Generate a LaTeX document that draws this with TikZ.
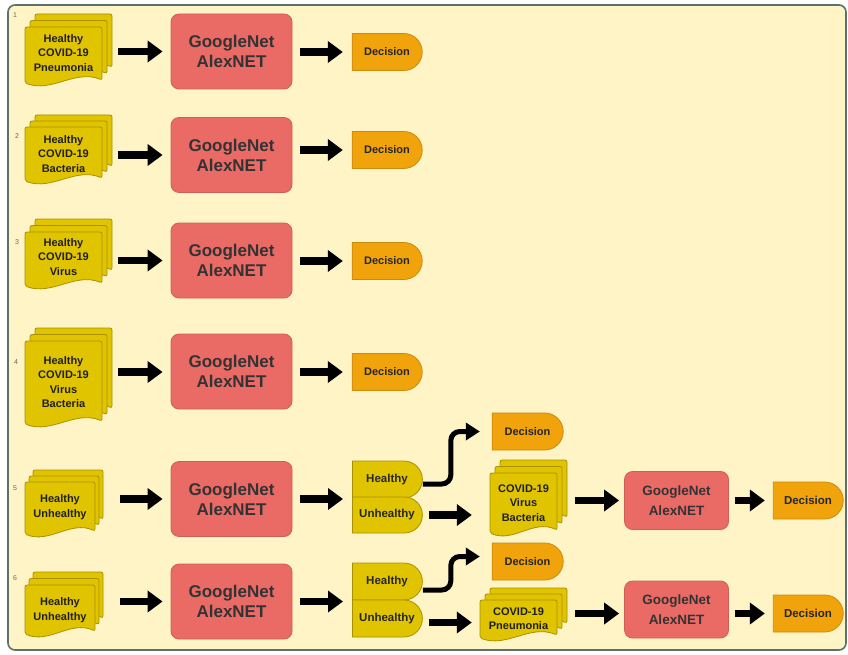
\documentclass[tikz,border=0pt]{standalone}
\usepackage{fontspec}
\setmainfont{Liberation Sans}
\usetikzlibrary{arrows.meta,shapes.misc}

\definecolor{paper}{HTML}{FFF4C6}
\definecolor{framec}{HTML}{5C706E}
\definecolor{docfill}{HTML}{E1C400}
\definecolor{docline}{HTML}{A89000}
\definecolor{netfill}{HTML}{EA6B66}
\definecolor{netline}{HTML}{CF5E59}
\definecolor{decfill}{HTML}{F0A30A}
\definecolor{decline}{HTML}{C98A10}

\tikzset{
  docpage/.style={fill=docfill, draw=docline, line width=0.8pt, rounded corners=2pt},
  doctext/.style={font=\bfseries\fontsize{11}{14.5}\selectfont, align=center,
    text=black!88, inner sep=0pt},
  netbox/.style={rectangle, rounded corners=8pt, fill=netfill, draw=netline,
    line width=0.8pt, font=\bfseries\fontsize{17}{20}\selectfont, align=center,
    text=black!80, minimum width=121pt, minimum height=75pt},
  smallnet/.style={netbox, font=\bfseries\fontsize{13.5}{20}\selectfont,
    minimum width=104pt, minimum height=58pt},
  decision/.style={rounded rectangle, rounded rectangle west arc=none,
    fill=decfill, draw=decline, line width=0.8pt,
    font=\bfseries\fontsize{11}{13}\selectfont, text=black!85,
    minimum width=70pt, minimum height=37pt, inner sep=0pt},
  outcome/.style={decision, fill=docfill, draw=docline,
    font=\bfseries\fontsize{11.5}{13}\selectfont},
  bigarrow/.style={line width=7.5pt, -{Triangle[length=15pt,width=21pt]}},
  bendarrow/.style={line width=5pt, rounded corners=9pt,
    -{Triangle[length=14pt,width=17pt]}},
  rowno/.style={font=\fontsize{7}{8}\selectfont, text=black!60, inner sep=0pt},
}

% one page of a document stack: left, top, width, height (wave included)
\newcommand\docpage[4]{%
  \draw[docpage] (#1,#2) -- ({#1+#3},#2) -- ({#1+#3},{#2+#4-7})
    .. controls ({#1+0.65*#3},{#2+#4-18}) and ({#1+0.35*#3},{#2+#4+6})
    .. (#1,{#2+#4-4}) -- cycle;}
% three stacked pages: left, top, width, height of the front page, x and y offset
\newcommand\docstack[6]{%
  \docpage{#1+2*#5}{#2-2*#6}{#3}{#4}%
  \docpage{#1+#5}{#2-#6}{#3}{#4}%
  \docpage{#1}{#2}{#3}{#4}}

\begin{document}
\begin{tikzpicture}[x=1pt,y=-1pt]
  \useasboundingbox (0,0) rectangle (848,655);
  \fill[white] (0,0) rectangle (848,655);
  \draw[fill=paper, draw=framec, line width=1.6pt, rounded corners=7pt]
    (8,5) rectangle (846,650);

  % row numbers
  \node[rowno] (r1) at (15,15) {1};
  \node[rowno] (r2) at (17,136) {2};
  \node[rowno] (r3) at (17,242) {3};
  \node[rowno] (r4) at (16,362) {4};
  \node[rowno] (r5) at (15,488) {5};
  \node[rowno] (r6) at (15,578) {6};

  % ---- row 1
  \docstack{25}{27}{77}{60}{5}{6.5}
  \node[doctext, minimum width=77pt] (d1) at (63.5,53) {Healthy\\COVID-19\\Pneumonia};
  \node[netbox] (n1) at (231.5,51.5) {GoogleNet\\AlexNET};
  \node[decision] (e1) at (387,52) {Decision};
  \draw[bigarrow, shorten <=16pt, shorten >=8pt] (d1.east |- n1.west) -- (n1.west);
  \draw[bigarrow, shorten <=8pt, shorten >=9pt] (n1.east |- e1.west) -- (e1.west);

  % ---- row 2
  \docstack{25}{127}{77}{58}{5}{6}
  \node[doctext, minimum width=77pt] (d2) at (63.5,154) {Healthy\\COVID-19\\Bacteria};
  \node[netbox] (n2) at (231.5,155) {GoogleNet\\AlexNET};
  \node[decision] (e2) at (387,150) {Decision};
  \draw[bigarrow, shorten <=16pt, shorten >=8pt] (d2.east |- n2.west) -- (n2.west);
  \draw[bigarrow, shorten <=8pt, shorten >=9pt] (n2.east |- e2.west) -- (e2.west);

  % ---- row 3
  \docstack{25}{232}{77}{58}{5}{6.5}
  \node[doctext, minimum width=77pt] (d3) at (63.5,257) {Healthy\\COVID-19\\Virus};
  \node[netbox] (n3) at (231.5,260.5) {GoogleNet\\AlexNET};
  \node[decision] (e3) at (387,261) {Decision};
  \draw[bigarrow, shorten <=16pt, shorten >=8pt] (d3.east |- n3.west) -- (n3.west);
  \draw[bigarrow, shorten <=8pt, shorten >=9pt] (n3.east |- e3.west) -- (e3.west);

  % ---- row 4
  \docstack{25}{341}{77}{87}{5}{6.5}
  \node[doctext, minimum width=77pt] (d4) at (63.5,382) {Healthy\\COVID-19\\Virus\\Bacteria};
  \node[netbox] (n4) at (231.5,371.5) {GoogleNet\\AlexNET};
  \node[decision] (e4) at (387,372) {Decision};
  \draw[bigarrow, shorten <=16pt, shorten >=8pt] (d4.east |- e4.west) -- (n4.west |- e4.west);
  \draw[bigarrow, shorten <=8pt, shorten >=9pt] (n4.east |- e4.west) -- (e4.west);

  % ---- row 5
  \docstack{25}{482}{70}{56}{4}{6}
  \node[doctext, minimum width=70pt] (d5) at (60,507) {Healthy\\Unhealthy};
  \node[netbox] (n5) at (231.5,499) {GoogleNet\\AlexNET};
  \node[outcome] (h5) at (387,479.5) {Healthy};
  \node[outcome, minimum height=36pt] (u5) at (387,515) {Unhealthy};
  \node[decision, minimum width=71pt] (e5) at (527.5,431.5) {Decision};
  \docstack{490}{473}{67}{64}{5}{6.5}
  \node[doctext, minimum width=67pt] (c5) at (523.5,503) {COVID-19\\Virus\\Bacteria};
  \node[smallnet] (m5) at (676.5,500.5) {GoogleNet\\AlexNET};
  \node[decision, font=\bfseries\fontsize{11.5}{13}\selectfont] (f5) at (808,500.5) {Decision};
  \draw[bigarrow, shorten <=25pt, shorten >=8pt] (d5.east |- n5.west) -- (n5.west);
  \draw[bigarrow, shorten <=8pt, shorten >=9pt] (n5.east) -- (n5.east -| h5.west);
  \draw[bendarrow, shorten >=12pt] ([yshift=-4.5pt]h5.east) -- ++(28,0) |- (e5.west);
  \draw[bigarrow, shorten <=6pt, shorten >=18pt] (u5.east) -- (u5.east -| c5.west);
  \draw[bigarrow, shorten <=18pt, shorten >=5pt] (c5.east |- m5.west) -- (m5.west);
  \draw[bigarrow, shorten <=6pt, shorten >=8pt] (m5.east |- f5.west) -- (f5.west);

  % ---- row 6
  \docstack{25}{585}{70}{53}{4}{6.5}
  \node[doctext, minimum width=70pt] (d6) at (60,610) {Healthy\\Unhealthy};
  \node[netbox] (n6) at (231.5,601.5) {GoogleNet\\AlexNET};
  \node[outcome] (h6) at (387,581.5) {Healthy};
  \node[outcome] (u6) at (387,618.5) {Unhealthy};
  \node[decision, minimum width=71pt] (e6) at (527.5,561.5) {Decision};
  \docstack{480}{600}{77}{42}{5}{6}
  \node[doctext, minimum width=77pt] (c6) at (518.5,618.5) {COVID-19\\Pneumonia};
  \node[smallnet, minimum height=57pt] (m6) at (676.5,609.5) {GoogleNet\\AlexNET};
  \node[decision, font=\bfseries\fontsize{11.5}{13}\selectfont] (f6) at (808,613.5) {Decision};
  \draw[bigarrow, shorten <=25pt, shorten >=8pt] (d6.east |- n6.west) -- (n6.west);
  \draw[bigarrow, shorten <=8pt, shorten >=9pt] (n6.east) -- (n6.east -| h6.west);
  \draw[bendarrow, shorten >=12pt] ([yshift=-8.5pt]h6.east) -- ++(28,0) |- ([yshift=5pt]e6.west);
  \draw[bigarrow, shorten <=6pt, shorten >=8pt] ([yshift=-4pt]u6.east) -- ([yshift=-4pt]u6.east -| c6.west);
  \draw[bigarrow, shorten <=18pt, shorten >=5pt] (c6.east |- f6.west) -- (m6.west |- f6.west);
  \draw[bigarrow, shorten <=6pt, shorten >=8pt] (m6.east |- f6.west) -- (f6.west);
\end{tikzpicture}
\end{document}
